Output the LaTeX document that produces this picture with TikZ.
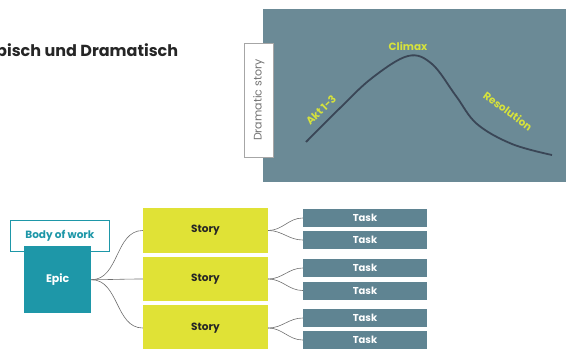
\documentclass[tikz,border=0pt]{standalone}
\usepackage{fontspec}
\setmainfont{Poppins}
\definecolor{panel}{HTML}{6B8A96}
\definecolor{curvec}{HTML}{3A4656}
\definecolor{lbl}{HTML}{D6E23C}
\definecolor{storyc}{HTML}{E0E236}
\definecolor{epicc}{HTML}{1E97A8}
\definecolor{taskc}{HTML}{5F8492}
\definecolor{linec}{HTML}{707070}
\tikzset{
  box/.style={draw=none, inner sep=0pt, font=\bfseries},
  storybox/.style={box, fill=storyc, minimum width=125pt, text=black!85, font=\bfseries\fontsize{10.5}{11}\selectfont},
  taskbox/.style={box, fill=taskc, minimum width=124pt, minimum height=18pt, text=white, font=\bfseries\fontsize{10}{10}\selectfont},
  link/.style={draw=linec, line width=0.6pt},
  arclbl/.style={text=lbl, font=\bfseries\fontsize{10.5}{11}\selectfont, inner sep=0pt}
}
\begin{document}
\begin{tikzpicture}[x=1pt,y=-1pt]
\useasboundingbox (0,0) rectangle (569,348);
\clip (0,0) rectangle (569,348);
% title
\node[anchor=west, inner sep=0pt, font=\bfseries\fontsize{16}{18}\selectfont, text=black!85] (title) at (-4,52) {pisch und Dramatisch};
% dramatic panel
\node[box, fill=panel, minimum width=303pt, minimum height=173pt, anchor=north west] (panel) at (263,9) {};
\node[draw=black!35, fill=white, line width=0.5pt, minimum width=29pt, minimum height=114pt, anchor=north west, inner sep=0pt] (dstory) at (244,43) {};
\node[rotate=90, text=black!55, font=\fontsize{11}{12}\selectfont, inner sep=0pt] (dstorytxt) at (dstory.center) {Dramatic story};
\draw[curvec, line width=1.8pt] plot[smooth, tension=0.6] coordinates {(306,142) (340,108) (372,78) (408,56) (432,64) (456,96) (477,124) (512,144) (552,155)};
\node[arclbl] (climax) at (408,46) {Climax};
\node[arclbl, rotate=44] (akt) at (321,110) {Akt 1-3};
\node[arclbl, rotate=-36] (resol) at (508,111) {Resolution};
% hierarchy
\node[draw=epicc, line width=0.8pt, fill=white, minimum width=99pt, minimum height=31pt, anchor=north west, inner sep=0pt, text=epicc, font=\bfseries\fontsize{10.5}{12}\selectfont] (body) at (10,220) {Body of work};
\node[box, fill=epicc, minimum width=67pt, minimum height=67pt, anchor=north west, text=white, font=\bfseries\fontsize{11}{12}\selectfont] (epic) at (24,246) {Epic};
\node[storybox, minimum height=45pt] (s1) at (205.5,230.5) {Story};
\node[storybox, minimum height=44pt] (s2) at (205.5,279) {Story};
\node[storybox, minimum height=46pt] (s3) at (205.5,328) {Story};
\node[taskbox] (t1) at (365,218) {Task};
\node[taskbox] (t2) at (365,240) {Task};
\node[taskbox] (t3) at (365,268) {Task};
\node[taskbox] (t4) at (365,290.5) {Task};
\node[taskbox] (t5) at (365,318) {Task};
\node[taskbox] (t6) at (365,340) {Task};
\foreach \s in {s1,s2,s3} \draw[link] (epic.east) to[out=0,in=180] (\s.west);
\draw[link] (s1.east) to[out=0,in=180] (t1.west);
\draw[link] (s1.east) to[out=0,in=180] (t2.west);
\draw[link] (s2.east) to[out=0,in=180] (t3.west);
\draw[link] (s2.east) to[out=0,in=180] (t4.west);
\draw[link] (s3.east) to[out=0,in=180] (t5.west);
\draw[link] (s3.east) to[out=0,in=180] (t6.west);
\end{tikzpicture}
\end{document}
